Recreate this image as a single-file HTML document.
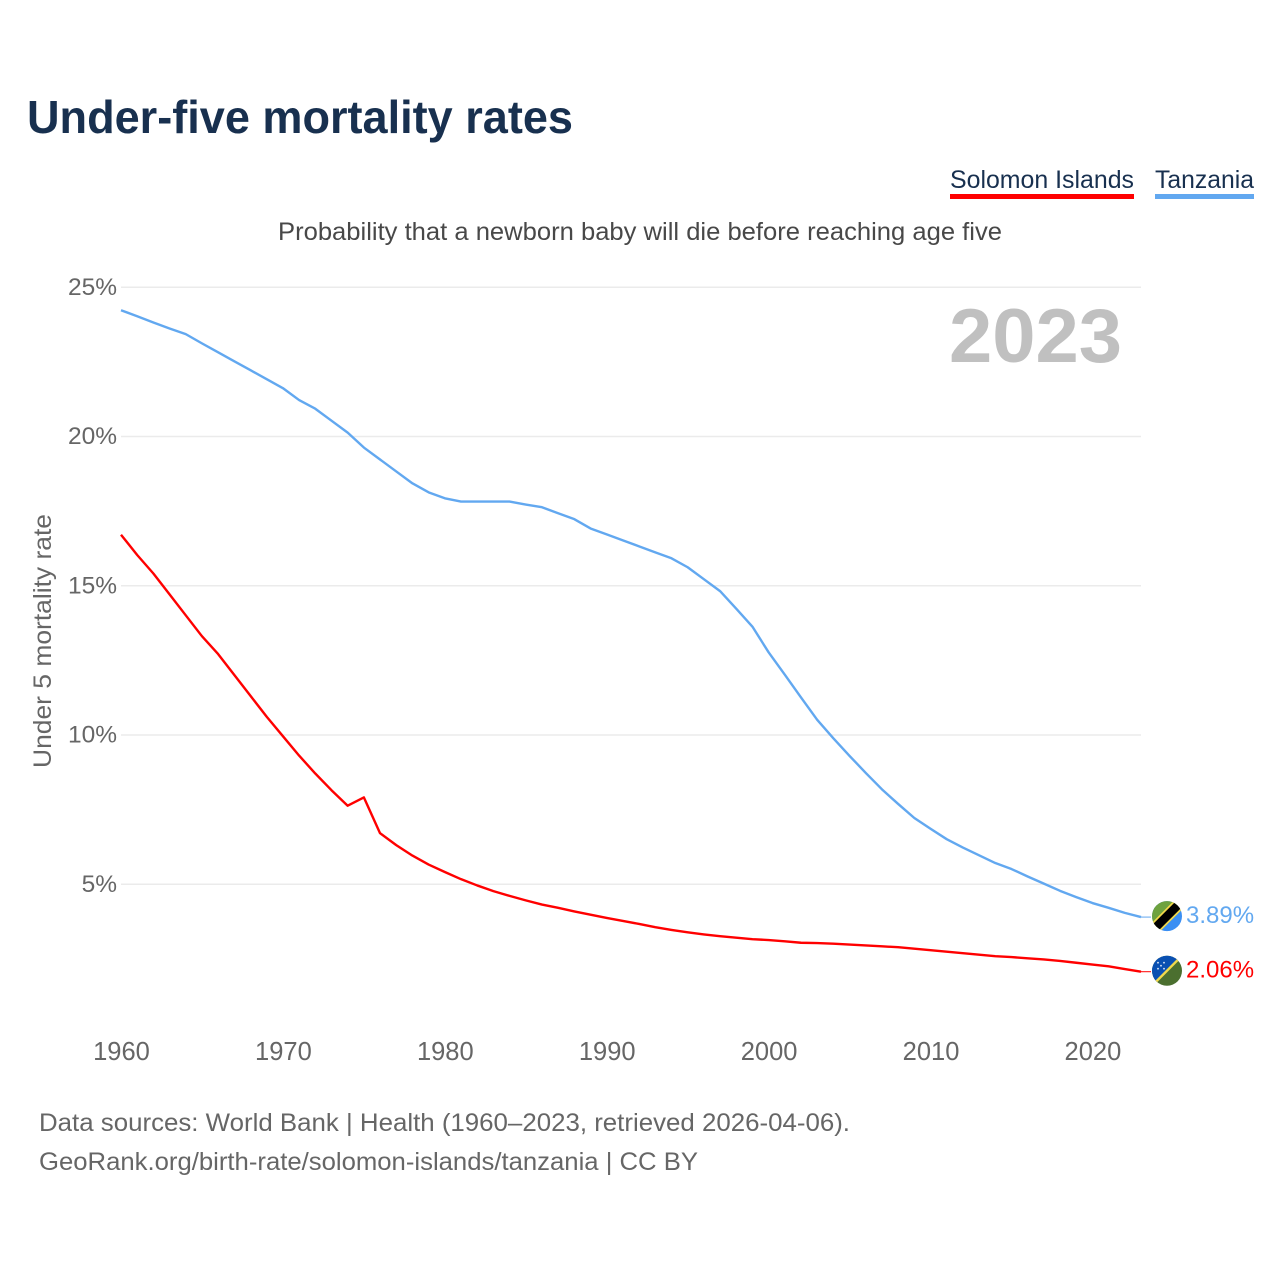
<!DOCTYPE html>
<html lang="en">
<head>
<meta charset="utf-8">
<title>Under-five mortality rates</title>
<style>
html,body{margin:0;padding:0;background:#fff;}
svg{display:block;font-family:"Liberation Sans",sans-serif;}
</style>
</head>
<body>
<svg id="chart" xmlns="http://www.w3.org/2000/svg" width="1280" height="1280" viewBox="0 0 1280 1280">
  <defs>
    <clipPath id="flag-clip"><circle cx="0" cy="0" r="15"/></clipPath>
  </defs>
  <rect x="0" y="0" width="1280" height="1280" fill="#ffffff"/>
  <text x="27" y="133" font-size="46" font-weight="700" fill="#18304f" textLength="546" lengthAdjust="spacingAndGlyphs">Under-five mortality rates</text>

  <g>
    <text x="950" y="188" font-size="25" fill="#18304f" textLength="184" lengthAdjust="spacingAndGlyphs">Solomon Islands</text>
    <rect x="950" y="194" width="184" height="5" fill="#ff0000"/>
  </g>
  <g>
    <text x="1155" y="188" font-size="25" fill="#18304f" textLength="99" lengthAdjust="spacingAndGlyphs">Tanzania</text>
    <rect x="1155" y="194" width="99" height="5" fill="#62a8f0"/>
  </g>

  <text x="278" y="240" font-size="25" fill="#484848" textLength="724" lengthAdjust="spacingAndGlyphs">Probability that a newborn baby will die before reaching age five</text>

  <g id="grid"></g>
  <g id="y-ticks"></g>
  <g id="x-ticks"></g>

  <text transform="translate(51,768) rotate(-90)" x="0" y="0" font-size="25" fill="#666666" textLength="254" lengthAdjust="spacingAndGlyphs">Under 5 mortality rate</text>

  <text x="949" y="362" font-size="76" font-weight="700" fill="#c0c0c0" textLength="173" lengthAdjust="spacingAndGlyphs">2023</text>

  <g id="series"></g>

  <g id="flag-tanzania">
    <g clip-path="url(#flag-clip)">
      <rect x="-16" y="-16" width="32" height="32" fill="#3b8ff3"/>
      <polygon points="-16,16 -16,-16 16,-16" fill="#6ea23f"/>
      <line x1="-17" y1="17" x2="17" y2="-17" stroke="#f2d94a" stroke-width="12"/>
      <line x1="-17" y1="17" x2="17" y2="-17" stroke="#000000" stroke-width="8.5"/>
    </g>
  </g>
  <g id="flag-solomon">
    <g clip-path="url(#flag-clip)">
      <rect x="-16" y="-16" width="32" height="32" fill="#4b6f2f"/>
      <polygon points="-16,16 -16,-16 16,-16" fill="#0a50b2"/>
      <line x1="-17" y1="17" x2="17" y2="-17" stroke="#f0d94c" stroke-width="2.4"/>
      <circle cx="-9" cy="-8" r="0.9" fill="#dfe8f5"/>
      <circle cx="-3" cy="-8" r="0.9" fill="#dfe8f5"/>
      <circle cx="-6" cy="-5" r="0.9" fill="#dfe8f5"/>
      <circle cx="-9" cy="-2" r="0.9" fill="#dfe8f5"/>
      <circle cx="-3" cy="-2" r="0.9" fill="#dfe8f5"/>
    </g>
  </g>
  <text id="value-tanzania" x="1186" font-size="24" fill="#62a8f0">3.89%</text>
  <text id="value-solomon" x="1186" font-size="24" fill="#ff0000">2.06%</text>

  <text x="39" y="1131" font-size="25" fill="#666666" textLength="811" lengthAdjust="spacingAndGlyphs">Data sources: World Bank | Health (1960–2023, retrieved 2026-04-06).</text>
  <text x="39" y="1170" font-size="25" fill="#666666" textLength="659" lengthAdjust="spacingAndGlyphs">GeoRank.org/birth-rate/solomon-islands/tanzania | CC BY</text>
</svg>
<script>
var firstYear = 1960;
var xTickYears = [1960, 1970, 1980, 1990, 2000, 2010, 2020];
var yTickValues = [5, 10, 15, 20, 25];
var tanzaniaValues = [
  24.22, 24.02, 23.81, 23.61, 23.42, 23.11, 22.81, 22.51, 22.21, 21.91,
  21.61, 21.21, 20.92, 20.52, 20.12, 19.62, 19.22, 18.82, 18.42, 18.12,
  17.92, 17.81, 17.81, 17.81, 17.81, 17.71, 17.62, 17.42, 17.22, 16.91,
  16.71, 16.51, 16.31, 16.11, 15.91, 15.61, 15.21, 14.81, 14.22, 13.62,
  12.76, 12.01, 11.25, 10.5, 9.88, 9.29, 8.72, 8.17, 7.68, 7.21,
  6.85, 6.5, 6.22, 5.96, 5.7, 5.5, 5.25, 5.01, 4.77, 4.56,
  4.36, 4.2, 4.03, 3.89
];
var solomonValues = [
  16.7, 16.02, 15.4, 14.7, 14.0, 13.3, 12.7, 12.0, 11.3, 10.6,
  9.95, 9.3, 8.7, 8.14, 7.62, 7.9, 6.7, 6.3, 5.95, 5.65,
  5.4, 5.16, 4.95, 4.76, 4.6, 4.45, 4.31, 4.2, 4.08, 3.97,
  3.86, 3.76, 3.66, 3.55, 3.46, 3.38, 3.31, 3.25, 3.2, 3.15,
  3.12, 3.08, 3.03, 3.02, 3.0, 2.97, 2.94, 2.91, 2.88, 2.83,
  2.78, 2.73, 2.68, 2.63, 2.58, 2.55, 2.51, 2.47, 2.42, 2.36,
  2.3, 2.24, 2.15, 2.06
];

var SVGNS = 'http://www.w3.org/2000/svg';
function xScale(year) { return 121 + (year - 1960) * (1020 / 63); }
function yScale(v) { return 1033.2 - v * 29.85; }
function make(tag, attrs, parent) {
  var el = document.createElementNS(SVGNS, tag);
  for (var k in attrs) el.setAttribute(k, attrs[k]);
  parent.appendChild(el);
  return el;
}

var gridGroup = document.getElementById('grid');
var yGroup = document.getElementById('y-ticks');
var xGroup = document.getElementById('x-ticks');
var seriesGroup = document.getElementById('series');

yTickValues.forEach(function (v) {
  var gridline = make('line', {x1: 121, x2: 1141, y1: yScale(v) + 0.3, y2: yScale(v) + 0.3, stroke: '#ebebeb', 'stroke-width': 1.5}, gridGroup);
  
  
  var label = make('text', {x: 117, y: yScale(v) + 8, 'text-anchor': 'end', 'font-size': 24.5, fill: '#666666'}, yGroup);
  
  
  label.textContent = v + '%';
});

xTickYears.forEach(function (year) {
  var label = make('text', {x: xScale(year) + 0.5, y: 1060, 'text-anchor': 'middle', 'font-size': 25.5, fill: '#666666'}, xGroup);
  
  
  label.textContent = year;
});

function drawSeries(values, color, name, flagId, labelId) {
  var points = values.map(function (v, i) {
    return xScale(firstYear + i).toFixed(2) + ',' + yScale(v).toFixed(2);
  }).join(' ');
  var line = make('polyline', {points: points, fill: 'none', stroke: color, 'stroke-width': 2.4, 'stroke-linejoin': 'round'}, seriesGroup);
  
  
  var last = values[values.length - 1];
  var endX = xScale(firstYear + values.length - 1);
  var endY = yScale(last);
  var connector = make('line', {x1: endX, y1: endY, x2: endX + 10, y2: endY, stroke: color, 'stroke-width': 1}, seriesGroup);
  
  
  document.getElementById(flagId).setAttribute('transform', 'translate(1167,' + (endY - 1).toFixed(2) + ')');
  var label = document.getElementById(labelId);
  label.setAttribute('y', (endY + 6).toFixed(2));
  label.textContent = last.toFixed(2) + '%';
}

drawSeries(solomonValues, '#ff0000', 'solomon-islands', 'flag-solomon', 'value-solomon');
drawSeries(tanzaniaValues, '#62a8f0', 'tanzania', 'flag-tanzania', 'value-tanzania');
</script>
</body>
</html>
